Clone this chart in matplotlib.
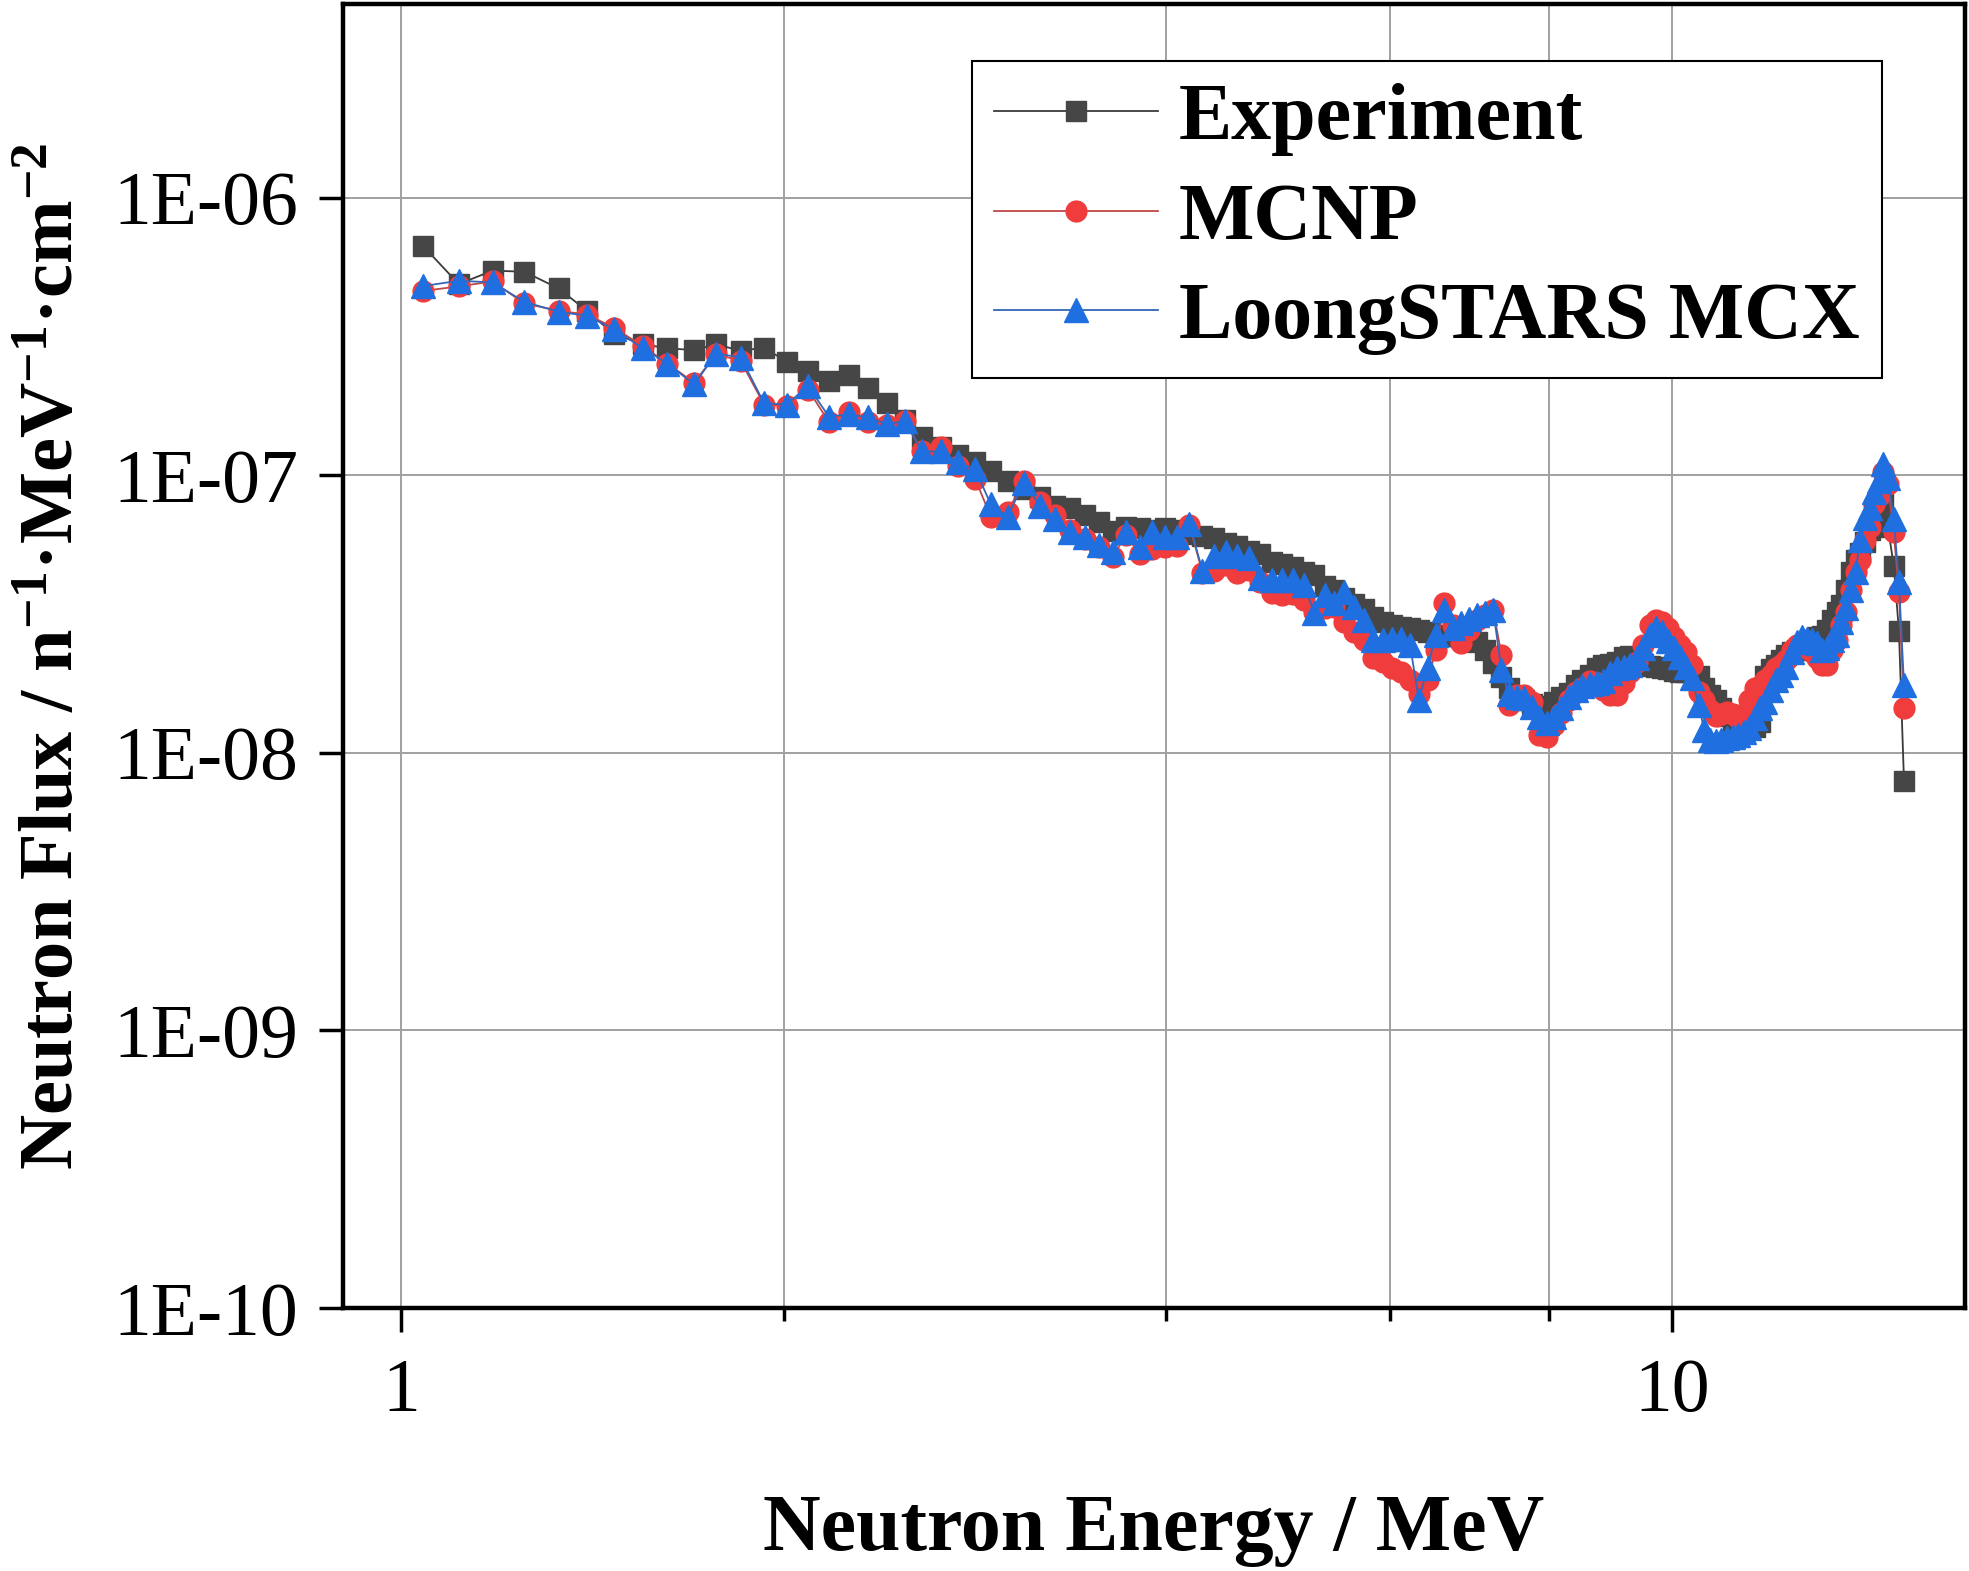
import numpy as np
import matplotlib
matplotlib.use("Agg")
import matplotlib.pyplot as plt
from matplotlib.ticker import FixedLocator, FuncFormatter, NullFormatter, NullLocator

plt.rcParams['font.family'] = ['Liberation Serif', 'DejaVu Serif']
plt.rcParams['mathtext.fontset'] = 'custom'
plt.rcParams['mathtext.rm'] = 'Liberation Serif'
plt.rcParams['mathtext.bf'] = 'Liberation Serif:bold'
plt.rcParams['mathtext.it'] = 'Liberation Serif:italic'

# neutron energy (MeV)
energy = [1.04, 1.11, 1.18, 1.25, 1.33, 1.40, 1.47, 1.55, 1.62, 1.70,
          1.77, 1.85, 1.93, 2.01, 2.09, 2.17, 2.25, 2.33, 2.41, 2.49,
          2.57, 2.66, 2.74, 2.83, 2.91, 3.00, 3.09, 3.18, 3.27, 3.36,
          3.45, 3.54, 3.63, 3.72, 3.81, 3.90, 3.99, 4.08, 4.17, 4.27,
          4.36, 4.46, 4.55, 4.65, 4.74, 4.84, 4.93, 5.03, 5.13, 5.23,
          5.33, 5.42, 5.52, 5.62, 5.72, 5.82, 5.92, 6.02, 6.12, 6.22,
          6.32, 6.42, 6.52, 6.62, 6.72, 6.82, 6.92, 7.02, 7.13, 7.23,
          7.34, 7.44, 7.55, 7.65, 7.76, 7.86, 7.97, 8.07, 8.18, 8.29,
          8.40, 8.50, 8.61, 8.72, 8.83, 8.94, 9.05, 9.16, 9.27, 9.38,
          9.49, 9.60, 9.71, 9.82, 9.93, 10.04, 10.15, 10.26, 10.37, 10.49,
          10.60, 10.71, 10.82, 10.93, 11.04, 11.16, 11.27, 11.39, 11.50, 11.62,
          11.73, 11.84, 11.96, 12.07, 12.19, 12.30, 12.42, 12.53, 12.65, 12.77,
          12.88, 13.00, 13.12, 13.24, 13.35, 13.47, 13.59, 13.71, 13.82, 13.94,
          14.06, 14.18, 14.30, 14.42, 14.54, 14.66, 14.78, 14.94, 15.08, 15.22]

# flux values in units of 1e-8
experiment = [67.3, 48.9, 54.7, 54.2, 47.2, 39.2, 32.3, 29.7, 28.7, 28.3,
              29.7, 28.1, 28.9, 25.7, 23.8, 21.9, 23.0, 20.7, 18.2, 15.9,
              13.8, 12.62, 11.81, 11.14, 10.34, 9.51, 8.90, 8.33, 7.79, 7.66,
              7.23, 6.82, 6.33, 6.54, 6.49, 6.38, 6.49, 6.38, 6.17, 6.07,
              5.97, 5.73, 5.59, 5.36, 5.19, 4.89, 4.81, 4.69, 4.50, 4.39,
              4.01, 3.88, 3.63, 3.45, 3.31, 3.10, 2.97, 2.90, 2.85, 2.83,
              2.78, 2.73, 2.67, 2.64, 2.64, 2.62, 2.61, 2.52, 2.35, 2.11,
              1.88, 1.72, 1.61, 1.55, 1.50, 1.48, 1.47, 1.53, 1.59, 1.65,
              1.76, 1.83, 1.91, 2.03, 2.08, 2.09, 2.13, 2.22, 2.24, 2.17,
              2.09, 2.06, 2.04, 2.03, 2.01, 1.98, 1.96, 1.96, 1.96, 1.90,
              1.72, 1.62, 1.55, 1.45, 1.36, 1.29, 1.25, 1.23, 1.22, 1.24,
              1.29, 1.90, 2.00, 2.08, 2.17, 2.26, 2.31, 2.35, 2.43, 2.49,
              2.56, 2.62, 2.64, 2.78, 3.02, 3.23, 3.42, 3.88, 4.50, 4.97,
              5.27, 5.78, 6.38, 7.23, 7.66, 7.86, 6.54, 4.73, 2.76, 0.79]

mcnp = [46.2, 48.0, 50.0, 41.7, 39.2, 38.0, 34.1, 29.2, 25.3, 21.6,
        27.4, 25.8, 18.0, 17.8, 20.4, 15.6, 16.9, 15.6, 15.2, 15.7,
        12.2, 12.62, 10.78, 9.67, 7.11, 7.41, 9.51, 7.99, 7.23, 6.38,
        5.92, 5.54, 5.10, 6.12, 5.19, 5.41, 5.50, 5.59, 6.65, 4.46,
        4.54, 4.77, 4.46, 4.58, 4.14, 3.78, 3.72, 3.75, 3.57, 3.23,
        3.34, 3.36, 2.97, 2.73, 2.56, 2.20, 2.13, 2.03, 1.96, 1.83,
        1.63, 1.83, 2.35, 3.48, 2.90, 2.49, 2.78, 3.02, 3.15, 3.28,
        2.26, 1.49, 1.62, 1.62, 1.53, 1.16, 1.14, 1.26, 1.39, 1.55,
        1.66, 1.72, 1.82, 1.79, 1.69, 1.62, 1.62, 1.79, 1.96, 2.13,
        2.45, 2.90, 3.02, 2.97, 2.83, 2.61, 2.45, 2.31, 2.08, 1.66,
        1.55, 1.43, 1.36, 1.38, 1.41, 1.38, 1.34, 1.37, 1.55, 1.72,
        1.75, 1.83, 1.91, 2.03, 2.08, 2.17, 2.35, 2.45, 2.45, 2.39,
        2.31, 2.20, 2.08, 2.08, 2.35, 2.56, 2.90, 3.23, 3.88, 4.50,
        4.97, 5.87, 6.54, 7.86, 8.40, 10.25, 9.28, 6.23, 3.81, 1.45]

mcx = [48.1, 50.3, 49.6, 42.2, 38.9, 37.6, 33.7, 28.7, 25.3, 21.3,
       27.5, 26.6, 18.2, 18.0, 21.0, 16.3, 16.6, 16.2, 15.3, 15.7,
       12.2, 12.21, 11.14, 10.51, 7.86, 7.11, 9.43, 7.79, 6.99, 6.23,
       6.02, 5.63, 5.32, 6.28, 5.54, 6.28, 6.02, 6.02, 6.71, 4.54,
       5.14, 5.32, 5.14, 5.06, 4.28, 4.21, 4.21, 4.21, 4.04, 3.20,
       3.72, 3.48, 3.81, 3.36, 3.02, 2.56, 2.56, 2.58, 2.58, 2.45,
       1.55, 2.03, 2.67, 3.28, 2.83, 2.95, 3.05, 3.15, 3.20, 3.28,
       1.99, 1.63, 1.59, 1.58, 1.47, 1.35, 1.28, 1.35, 1.45, 1.59,
       1.69, 1.75, 1.77, 1.79, 1.82, 1.94, 2.03, 2.04, 2.08, 2.20,
       2.39, 2.67, 2.83, 2.73, 2.54, 2.39, 2.22, 2.04, 1.86, 1.49,
       1.21, 1.11, 1.10, 1.11, 1.13, 1.14, 1.16, 1.19, 1.23, 1.34,
       1.45, 1.53, 1.69, 1.83, 1.91, 2.04, 2.31, 2.52, 2.61, 2.58,
       2.56, 2.49, 2.35, 2.39, 2.56, 2.67, 2.97, 3.34, 3.88, 4.50,
       5.87, 7.05, 7.66, 8.68, 9.51, 11.0, 9.83, 6.94, 4.14, 1.76]

unit = 1e-8
y_ticks = [1e-10, 1e-9, 1e-8, 1e-7, 1e-6]

fig = plt.figure(figsize=(19.69, 15.71), dpi=100)
ax = fig.add_axes([0.1742, 0.1674, 0.8238, 0.8301])

ax.plot(energy, np.array(experiment) * unit, color='#3a3a3a', lw=1.3,
        marker='s', ms=14, mfc='#464646', mec='#464646', label='Experiment', zorder=3)
ax.plot(energy, np.array(mcnp) * unit, color='#c04848', lw=1.3,
        marker='o', ms=15, mfc='#f03c3c', mec='#f03c3c', label='MCNP', zorder=4)
ax.plot(energy, np.array(mcx) * unit, color='#3566b8', lw=1.3,
        marker='^', ms=17, mfc='#1f6fe0', mec='#1f6fe0', label='LoongSTARS MCX', zorder=5)

ax.set_xscale('log')
ax.set_yscale('log')
ax.set_xlim(0.9, 17)
ax.set_ylim(1e-10, 5e-6)

ax.xaxis.set_major_locator(FixedLocator([1, 10]))
ax.xaxis.set_minor_locator(FixedLocator([2, 4, 6, 8]))
ax.xaxis.set_major_formatter(FuncFormatter(lambda v, p: '%d' % round(v)))
ax.xaxis.set_minor_formatter(NullFormatter())
ax.yaxis.set_major_locator(FixedLocator(y_ticks))
ax.yaxis.set_minor_locator(NullLocator())
ax.yaxis.set_major_formatter(FuncFormatter(lambda v, p: '1E-%02d' % round(-np.log10(v))))

ax.grid(True, which='both', color='#a0a0a0', lw=1.4)
ax.set_axisbelow(True)

ax.tick_params(which='major', direction='out', length=17, width=2.5, labelsize=54.5)
ax.tick_params(which='minor', direction='out', length=9, width=2.5)
ax.tick_params(axis='x', which='major', pad=19)
ax.tick_params(axis='y', which='major', pad=15)
for s in ax.spines.values():
    s.set_linewidth(3.2)
    s.set_color('black')

ax.set_xlabel('Neutron Energy / MeV', fontsize=57.5, fontweight='bold')
ax.set_ylabel(r'Neutron Flux / n$^{\mathbf{-1}}$·MeV$^{\mathbf{-1}}$·cm$^{\mathbf{-2}}$',
              fontsize=55, fontweight='bold')
ax.xaxis.set_label_coords(0.5, -0.143)
ax.yaxis.set_label_coords(-0.1566, 0.5)

leg = ax.legend(loc='upper right', bbox_to_anchor=(0.9488, 0.9563), borderaxespad=0,
                prop={'family': 'Liberation Serif', 'weight': 'bold', 'size': 57.6},
                frameon=True, fancybox=False, edgecolor='black', framealpha=1,
                handlelength=2.05, handletextpad=0.26, borderpad=0.28, labelspacing=0.33)
leg.get_frame().set_linewidth(1.5)

fig.savefig('out.png', dpi=100)
